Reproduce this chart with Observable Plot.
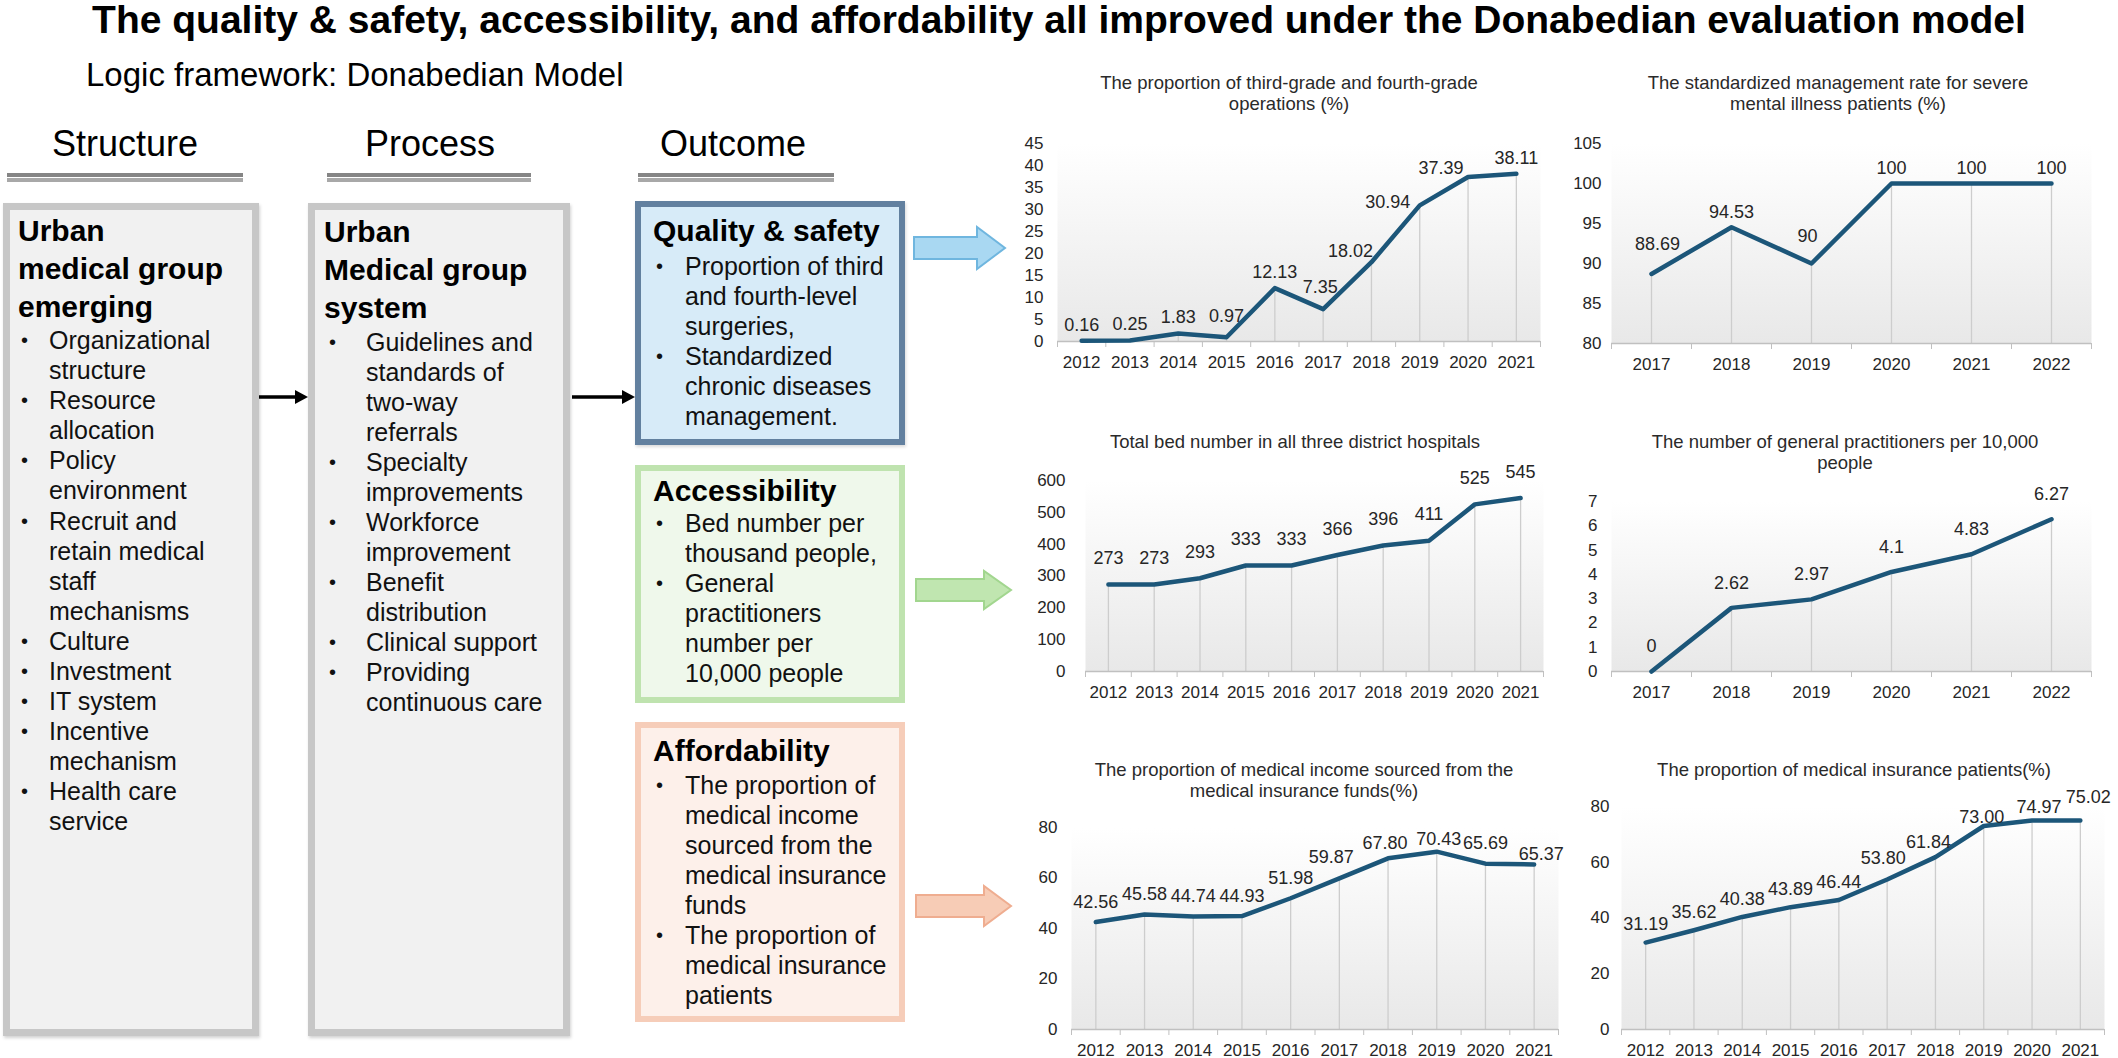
<!DOCTYPE html>
<html>
<head>
<meta charset="utf-8">
<script src="https://cdn.jsdelivr.net/npm/d3@7"></script>
<script src="https://cdn.jsdelivr.net/npm/@observablehq/plot@0.6"></script>
<style>
  html, body { margin: 0; padding: 0; background: #ffffff; }
  body { width: 2118px; height: 1058px; position: relative; overflow: hidden;
         font-family: "Liberation Sans", Arial, Helvetica, sans-serif; color: #000; }
  .abs { position: absolute; white-space: nowrap; }
  .box { position: absolute; box-sizing: border-box; }
  .ctitle { position: absolute; text-align: center; font-size: 18.5px; line-height: 21px; color: #2a2a2a; white-space: nowrap; }
  .chart { position: absolute; }
  .chart svg { overflow: visible; }
</style>
</head>
<body>
<script>
// ---------------- DATA ----------------
const yearsLong = [2012, 2013, 2014, 2015, 2016, 2017, 2018, 2019, 2020, 2021];
const yearsShort = [2017, 2018, 2019, 2020, 2021, 2022];

const operationsShare = [0.16, 0.25, 1.83, 0.97, 12.13, 7.35, 18.02, 30.94, 37.39, 38.11];
const mentalIllnessRate = [88.69, 94.53, 90, 100, 100, 100];
const bedTotals = [273, 273, 293, 333, 333, 366, 396, 411, 525, 545];
const gpPer10k = [0, 2.62, 2.97, 4.1, 4.83, 6.27];
const insuranceFundShare = [42.56, 45.58, 44.74, 44.93, 51.98, 59.87, 67.80, 70.43, 65.69, 65.37];
const insuredPatientShare = [31.19, 35.62, 40.38, 43.89, 46.44, 53.80, 61.84, 73.00, 74.97, 75.02];

const operationsTicks = [0, 5, 10, 15, 20, 25, 30, 35, 40, 45];
const mentalTicks = [80, 85, 90, 95, 100, 105];
const bedTicks = [0, 100, 200, 300, 400, 500, 600];
const gpTicks = [0, 1, 2, 3, 4, 5, 6, 7];
const shareTicks = [0, 20, 40, 60, 80];

const chartTitles = {
  ops: ["The proportion of third-grade and fourth-grade", "operations (%)"],
  smi: ["The standardized management rate for severe", "mental illness patients (%)"],
  beds: ["Total bed number in all three district hospitals"],
  gp: ["The number of general practitioners per 10,000", "people"],
  fund: ["The proportion of medical income sourced from the", "medical insurance funds(%)"],
  ins: ["The proportion of medical insurance patients(%)"]
};

const mainTitle = "The quality & safety, accessibility, and affordability all improved under the Donabedian evaluation model";
const subTitle = "Logic framework: Donabedian Model";
const columnHeads = ["Structure", "Process", "Outcome"];

const structureHeading = ["Urban", "medical group", "emerging"];
const structureItems = [["Organizational", "structure"], ["Resource", "allocation"], ["Policy", "environment"],
  ["Recruit and", "retain medical", "staff", "mechanisms"], ["Culture"], ["Investment"], ["IT system"],
  ["Incentive", "mechanism"], ["Health care", "service"]];
const processHeading = ["Urban", "Medical group", "system"];
const processItems = [["Guidelines and", "standards of", "two-way", "referrals"], ["Specialty", "improvements"],
  ["Workforce", "improvement"], ["Benefit", "distribution"], ["Clinical support"], ["Providing", "continuous care"]];
const qualityHeading = ["Quality & safety"];
const qualityItems = [["Proportion of third", "and fourth-level", "surgeries,"], ["Standardized", "chronic diseases", "management."]];
const accessHeading = ["Accessibility"];
const accessItems = [["Bed number per", "thousand people,"], ["General", "practitioners", "number per", "10,000 people"]];
const affordHeading = ["Affordability"];
const affordItems = [["The proportion of", "medical income", "sourced from the", "medical insurance", "funds"],
  ["The proportion of", "medical insurance", "patients"]];

// ---------------- HELPERS ----------------
const FONT = '"Liberation Sans", Arial, Helvetica, sans-serif';
const body = document.body;

function el(tag, cls, style, html) {
  const e = document.createElement(tag);
  if (cls) e.className = cls;
  Object.assign(e.style, style || {});
  if (html != null) e.innerHTML = html;
  body.appendChild(e);
  return e;
}

function textLines(x, firstCenter, lh, size, bold, lines, extra) {
  el("div", "abs", Object.assign({
    left: x + "px", top: (firstCenter - lh / 2) + "px", fontSize: size + "px",
    lineHeight: lh + "px", fontWeight: bold ? "bold" : "normal"
  }, extra || {}), lines.join("<br>"));
}

function bulletList(bx, tx, firstCenter, lh, size, items) {
  const lines = [], marks = [];
  items.forEach(it => it.forEach((ln, k) => { lines.push(ln); marks.push(k === 0 ? "&#8226;" : "&nbsp;"); }));
  textLines(tx, firstCenter, lh, size, false, lines, {color: "#111"});
  textLines(bx, firstCenter, lh, size * 0.8, false, marks, {color: "#111"});
}

// ---------------- TITLES ----------------
el("div", "abs", {left: "0px", width: "2118px", top: "0px", textAlign: "center", fontSize: "39px",
  fontWeight: "bold", lineHeight: "40px"}, mainTitle);
el("div", "abs", {left: "86px", top: "57px", fontSize: "33px", lineHeight: "36px"}, subTitle);

const headCenters = [125, 430, 733];
const headLines = [[7, 243], [327, 531], [638, 834]];
columnHeads.forEach((h, i) => {
  el("div", "abs", {left: (headCenters[i] - 150) + "px", width: "300px", textAlign: "center", top: "124px",
    fontSize: "36px", lineHeight: "40px"}, h);
  const [a, b] = headLines[i];
  el("div", "box", {left: a + "px", top: "173px", width: (b - a) + "px", height: "4px", background: "#858585"});
  el("div", "box", {left: a + "px", top: "178px", width: (b - a) + "px", height: "4px", background: "#a8a8a8"});
});

// ---------------- BOXES ----------------
function box(l, t, r, b, fill, border, bw, shadow) {
  el("div", "box", {left: l + "px", top: t + "px", width: (r - l) + "px", height: (b - t) + "px",
    background: fill, border: bw + "px solid " + border, boxShadow: shadow || "none"});
}
box(3, 203, 259, 1036, "#f1f1f1", "#c7c7c7", 7, "1px 2px 3px rgba(0,0,0,0.18)");
box(308, 203, 570, 1036, "#f1f1f1", "#c7c7c7", 7, "1px 2px 3px rgba(0,0,0,0.18)");
box(635, 201, 905, 445, "#d7ebf8", "#62809f", 6, "1px 2px 3px rgba(0,0,0,0.15)");
box(635, 465, 905, 703, "#eff8eb", "#bfe3af", 6, "none");
box(635, 722, 905, 1022, "#fdf0ea", "#f6cdb9", 6, "none");

// Box texts
textLines(18, 231, 38, 30, true, structureHeading);
bulletList(21, 49, 340, 30.1, 25, structureItems);
textLines(324, 232, 38, 30, true, processHeading);
bulletList(329, 366, 342, 30, 25, processItems);
textLines(653, 231, 38, 30, true, qualityHeading);
bulletList(656, 685, 266, 30, 25, qualityItems);
textLines(653, 491, 38, 30, true, accessHeading);
bulletList(656, 685, 523, 30, 25, accessItems);
textLines(653, 751, 38, 30, true, affordHeading);
bulletList(656, 685, 785, 30, 25, affordItems);

// ---------------- ARROWS (decoration) ----------------
const ov = d3.select(body).append("svg").attr("width", 2118).attr("height", 1058)
  .style("position", "absolute").style("left", "0px").style("top", "0px").style("pointer-events", "none");
function connector(x0, x1, y) {
  ov.append("line").attr("x1", x0).attr("x2", x1 - 10).attr("y1", y).attr("y2", y).attr("stroke", "#000").attr("stroke-width", 3.5);
  ov.append("path").attr("d", `M${x1 - 13},${y - 7}L${x1},${y}L${x1 - 13},${y + 7}Z`).attr("fill", "#000");
}
connector(259, 308, 397);
connector(572, 635, 397);
function blockArrow(x0, x1, hs, cy, sh, hh, fill, stroke) {
  const p = [[x0, cy - sh], [hs, cy - sh], [hs, cy - hh], [x1, cy], [hs, cy + hh], [hs, cy + sh], [x0, cy + sh]];
  ov.append("path").attr("d", "M" + p.map(q => q.join(",")).join("L") + "Z")
    .attr("fill", fill).attr("stroke", stroke).attr("stroke-width", 2);
}
blockArrow(914, 1005, 977, 248, 11, 21, "#a9d8f2", "#6fb6df");
blockArrow(916, 1011, 984, 590, 11, 19, "#c0e6b0", "#a2d68f");
blockArrow(916, 1011, 984, 906, 11, 20, "#f7ccb6", "#efad90");

// ---------------- CHARTS ----------------
const fixed2 = v => v.toFixed(2);
const plain = v => String(v);

function gradientDefs(id) {
  return () => {
    const defs = d3.create("svg:defs");
    const g = defs.append("linearGradient").attr("id", id)
      .attr("x1", 0).attr("y1", 0).attr("x2", 0).attr("y2", 1);
    g.append("stop").attr("offset", "0%").attr("stop-color", "#ffffff");
    g.append("stop").attr("offset", "100%").attr("stop-color", "#e8e8e8");
    return defs.node();
  };
}

function lineChart(cfg) {
  const data = cfg.years.map((year, i) => ({year, value: cfg.values[i], i}));
  const y0 = cfg.yDomain[0];
  const first = cfg.years[0], last = cfg.years[cfg.years.length - 1];
  const bounds = d3.range(first - 0.5, last + 1, 1);
  const marks = [
    gradientDefs("grad-" + cfg.id),
    Plot.frame({fill: `url(#grad-${cfg.id})`, stroke: "none"}),
    Plot.ruleX(data, {x: "year", y1: d => y0, y2: "value", stroke: "#cdcdcd", strokeWidth: 1.3}),
    Plot.ruleY([y0], {stroke: "#c0c0c0", strokeWidth: 1.5}),
    Plot.axisX({ticks: bounds, tickSize: 6, tickFormat: () => "", stroke: "#c0c0c0", label: null}),
    Plot.axisX({ticks: cfg.years, tickSize: 0, tickPadding: 14, tickFormat: d => String(d),
      fontSize: 17, color: "#262626", label: null}),
    Plot.axisY({ticks: cfg.yTicks, tickSize: 0, tickPadding: cfg.tickPad, tickFormat: d => String(d),
      fontSize: 17, color: "#262626", label: null}),
    Plot.line(data, {x: "year", y: "value", stroke: "#1c5679", strokeWidth: 4.5,
      strokeLinejoin: "round", strokeLinecap: "round"})
  ];
  const groups = new Map();
  data.forEach(d => {
    const n = (cfg.nudge && cfg.nudge[d.i]) || [0, cfg.labelDy];
    const key = n.join(",");
    if (!groups.has(key)) groups.set(key, {n, rows: []});
    groups.get(key).rows.push(d);
  });
  for (const {n, rows} of groups.values()) {
    marks.push(Plot.text(rows, {x: "year", y: "value", text: d => cfg.fmt(d.value),
      dx: n[0], dy: n[1], fontSize: 18, fill: "#262626"}));
  }
  const svg = Plot.plot({
    width: cfg.width, height: cfg.height,
    marginLeft: cfg.mL, marginRight: cfg.mR, marginTop: cfg.mT, marginBottom: cfg.mB,
    x: {domain: [first - 0.5, last + 0.5], label: null},
    y: {domain: cfg.yDomain, label: null},
    style: {fontFamily: FONT, fontSize: "17px", background: "transparent", overflow: "visible"},
    marks
  });
  const holder = el("div", "chart", {left: cfg.left + "px", top: cfg.top + "px"});
  holder.appendChild(svg);
  cfg.title.forEach((t, k) => {
    el("div", "ctitle", {left: (cfg.titleX - 300) + "px", width: "600px",
      top: (cfg.titleY + k * 21 - 10.5) + "px"}, t);
  });
}

lineChart({id: "ops", years: yearsLong, values: operationsShare, fmt: fixed2, yDomain: [0, 45], yTicks: operationsTicks,
  left: 990, top: 110, width: 570, height: 270, mL: 67, mR: 20, mT: 33, mB: 39, tickPad: 14,
  labelDy: -16, nudge: {3: [0, -21], 5: [-3, -22], 6: [-21, -11], 7: [-32, -3], 8: [-27, -9]},
  title: chartTitles.ops, titleX: 1289, titleY: 82});

lineChart({id: "smi", years: yearsShort, values: mentalIllnessRate, fmt: plain, yDomain: [80, 105], yTicks: mentalTicks,
  left: 1550, top: 110, width: 560, height: 270, mL: 61, mR: 19, mT: 33, mB: 37, tickPad: 10,
  labelDy: -15, nudge: {0: [6, -30], 2: [-4, -27]},
  title: chartTitles.smi, titleX: 1838, titleY: 82});

lineChart({id: "beds", years: yearsLong, values: bedTotals, fmt: plain, yDomain: [0, 600], yTicks: bedTicks,
  left: 1000, top: 450, width: 560, height: 260, mL: 85, mR: 17, mT: 30, mB: 39, tickPad: 20,
  labelDy: -26, nudge: {},
  title: chartTitles.beds, titleX: 1295, titleY: 441});

lineChart({id: "gp", years: yearsShort, values: gpPer10k, fmt: plain, yDomain: [0, 7], yTicks: gpTicks,
  left: 1550, top: 470, width: 560, height: 240, mL: 61, mR: 19, mT: 31, mB: 39, tickPad: 14,
  labelDy: -25, nudge: {},
  title: chartTitles.gp, titleX: 1845, titleY: 441});

lineChart({id: "fund", years: yearsLong, values: insuranceFundShare, fmt: fixed2, yDomain: [0, 80], yTicks: shareTicks,
  left: 1000, top: 795, width: 570, height: 263, mL: 71, mR: 12, mT: 32, mB: 29, tickPad: 14,
  labelDy: -20, nudge: {5: [-8, -21], 6: [-3, -15], 7: [2, -12], 9: [7, -10]},
  title: chartTitles.fund, titleX: 1304, titleY: 769});

lineChart({id: "ins", years: yearsLong, values: insuredPatientShare, fmt: fixed2, yDomain: [0, 80], yTicks: shareTicks,
  left: 1550, top: 770, width: 568, height: 288, mL: 71, mR: 14, mT: 36, mB: 29, tickPad: 12,
  labelDy: -18, nudge: {5: [-4, -21], 6: [-7, -15], 7: [-2, -9], 8: [7, -13], 9: [8, -23]},
  title: chartTitles.ins, titleX: 1854, titleY: 769});
</script>
</body>
</html>
